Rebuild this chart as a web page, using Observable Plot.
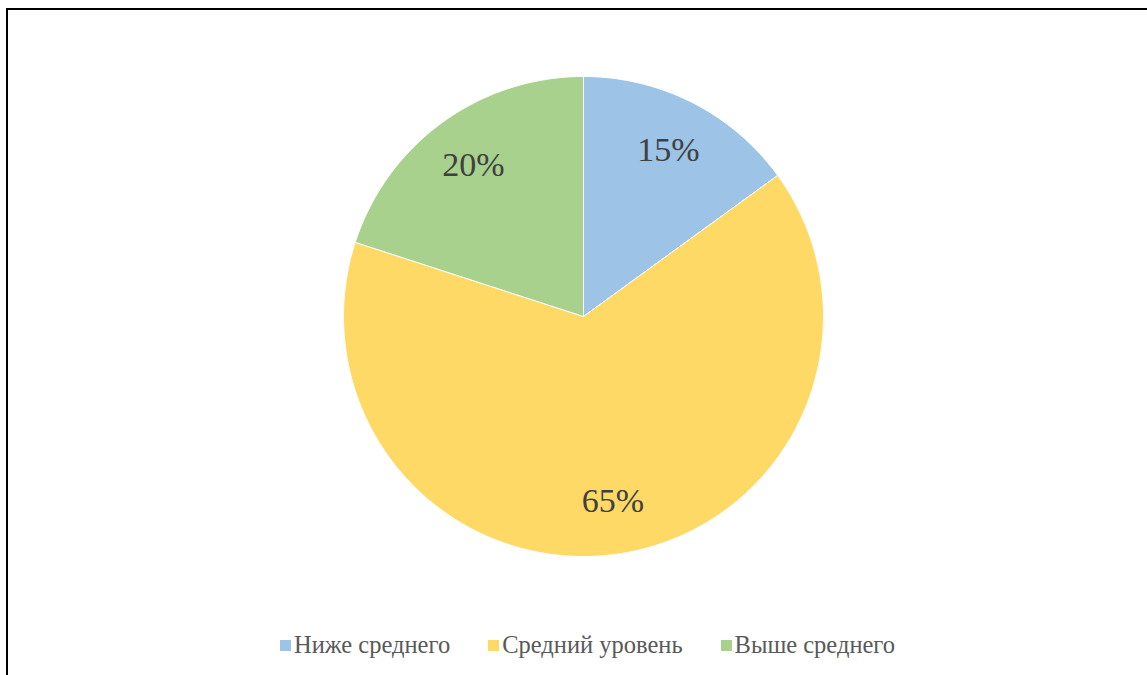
<!DOCTYPE html>
<html>
<head>
<meta charset="utf-8">
<script src="https://cdn.jsdelivr.net/npm/d3@7"></script>
<script src="https://cdn.jsdelivr.net/npm/@observablehq/plot@0.6"></script>
<style>
  html, body { margin: 0; padding: 0; background: #fff; overflow: hidden; width: 1147px; height: 675px; }
  #frame { position: absolute; left: 6px; top: 8px; width: 1300px; height: 800px; border: 2px solid #000; box-sizing: border-box; }
  #chart { position: absolute; left: 0; top: 0; }
  #legend { position: absolute; left: 14px; top: 630px; width: 1147px; display: flex; justify-content: center; gap: 38px;
            font-family: "Liberation Serif", "Times New Roman", serif; font-size: 24.5px; line-height: 30px; color: #595959; }
  #legend .item { display: flex; align-items: center; }
  #legend .sw { width: 11px; height: 11px; margin-right: 3px; }
</style>
</head>
<body>
<div id="frame"></div>
<div id="chart"></div>
<div id="legend"></div>
<script>
const categories = ["Ниже среднего", "Средний уровень", "Выше среднего"];
const values = [15, 65, 20];
const labels = ["15%", "65%", "20%"];
const colors = ["#9DC3E6", "#FFD966", "#A9D18E"];

const W = 1147, H = 620;
const cx = 583, cy = 316, R = 240;

// Build slice polygons from d3.pie angles (clockwise from 12 o'clock)
const pie = d3.pie().sort(null).value(d => d.value);
const table = categories.map((c, i) => ({category: c, value: values[i], label: labels[i]}));
const arcs = pie(table);

const poly = [];
const labelPts = [];
arcs.forEach(a => {
  const n = Math.max(2, Math.ceil((a.endAngle - a.startAngle) / 0.01));
  poly.push({category: a.data.category, x: 0, y: 0});
  for (let k = 0; k <= n; k++) {
    const t = a.startAngle + (a.endAngle - a.startAngle) * k / n;
    poly.push({category: a.data.category, x: Math.sin(t), y: Math.cos(t)});
  }
  poly.push({category: a.data.category, x: 0, y: 0});
  const m = (a.startAngle + a.endAngle) / 2;
  const rr = 0.78;
  labelPts.push({label: a.data.label, x: rr * Math.sin(m), y: rr * Math.cos(m)});
});

const plot = Plot.plot({
  width: W,
  height: H,
  margin: 0,
  x: {domain: [-cx / R, (W - cx) / R], axis: null},
  y: {domain: [-(H - cy) / R, cy / R], axis: null},
  color: {domain: categories, range: colors},
  style: {background: "transparent"},
  marks: [
    Plot.line(poly, {x: "x", y: "y", z: "category", fill: "category", stroke: "white", strokeWidth: 1, curve: "linear"}),
    Plot.text(labelPts, {x: "x", y: "y", text: "label", fill: "#404040", fontSize: 34,
      fontFamily: "'Liberation Serif', 'Times New Roman', serif"})
  ]
});
document.getElementById("chart").appendChild(plot);

const legend = document.getElementById("legend");
categories.forEach((c, i) => {
  const it = document.createElement("div");
  it.className = "item";
  const sw = document.createElement("span");
  sw.className = "sw";
  sw.style.background = colors[i];
  const tx = document.createElement("span");
  tx.textContent = c;
  it.appendChild(sw); it.appendChild(tx);
  legend.appendChild(it);
});
</script>
</body>
</html>
